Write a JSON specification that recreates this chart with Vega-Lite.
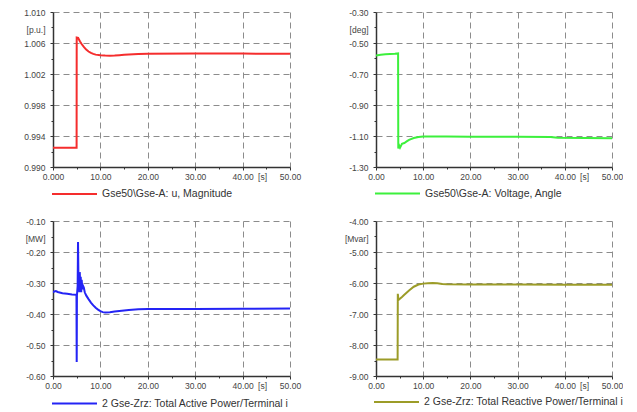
{
  "$schema": "https://vega.github.io/schema/vega-lite/v6.json",
  "background": "white",
  "padding": {"left": 23, "top": 8, "right": 0, "bottom": 0},
  "config": {
    "view": {"stroke": null},
    "font": "Liberation Sans",
    "axis": {
      "domainColor": "#333333",
      "domainWidth": 1.5,
      "tickColor": "#333333",
      "tickWidth": 1,
      "gridColor": "#8c8c8c",
      "gridDash": [6, 4],
      "gridWidth": 1,
      "labelFontSize": 8.5,
      "labelColor": "#444444",
      "labelOverlap": false,
      "labelFlush": false,
      "titleFontWeight": "normal",
      "titleFontSize": 8.5,
      "titleColor": "#444444"
    },
    "axisX": {"labelPadding": 2, "labelBaseline": "top"},
    "axisY": {"labelPadding": 5},
    "legend": {
      "orient": "none",
      "title": null,
      "symbolType": "stroke",
      "symbolSize": 2025,
      "symbolStrokeWidth": 2,
      "labelFontSize": 10.5,
      "labelColor": "#333333",
      "labelOffset": 4,
      "labelLimit": 400,
      "padding": 0
    }
  },
  "datasets": {
    "u": [
      {"t": 0, "v": 0.99247, "s": "Gse50\\Gse-A: u, Magnitude"},
      {"t": 4.98, "v": 0.99247, "s": "Gse50\\Gse-A: u, Magnitude"},
      {"t": 5.0, "v": 1.0067, "s": "Gse50\\Gse-A: u, Magnitude"},
      {"t": 5.3, "v": 1.00665, "s": "Gse50\\Gse-A: u, Magnitude"},
      {"t": 5.7, "v": 1.0062, "s": "Gse50\\Gse-A: u, Magnitude"},
      {"t": 6.0, "v": 1.0059, "s": "Gse50\\Gse-A: u, Magnitude"},
      {"t": 6.5, "v": 1.0055, "s": "Gse50\\Gse-A: u, Magnitude"},
      {"t": 7.0, "v": 1.00515, "s": "Gse50\\Gse-A: u, Magnitude"},
      {"t": 7.5, "v": 1.0049, "s": "Gse50\\Gse-A: u, Magnitude"},
      {"t": 8.0, "v": 1.00472, "s": "Gse50\\Gse-A: u, Magnitude"},
      {"t": 8.5, "v": 1.0046, "s": "Gse50\\Gse-A: u, Magnitude"},
      {"t": 9.0, "v": 1.0045, "s": "Gse50\\Gse-A: u, Magnitude"},
      {"t": 10.0, "v": 1.00442, "s": "Gse50\\Gse-A: u, Magnitude"},
      {"t": 11.0, "v": 1.00438, "s": "Gse50\\Gse-A: u, Magnitude"},
      {"t": 12.0, "v": 1.00437, "s": "Gse50\\Gse-A: u, Magnitude"},
      {"t": 13.0, "v": 1.00439, "s": "Gse50\\Gse-A: u, Magnitude"},
      {"t": 14.0, "v": 1.00443, "s": "Gse50\\Gse-A: u, Magnitude"},
      {"t": 15.0, "v": 1.00448, "s": "Gse50\\Gse-A: u, Magnitude"},
      {"t": 16.0, "v": 1.00452, "s": "Gse50\\Gse-A: u, Magnitude"},
      {"t": 18.0, "v": 1.00458, "s": "Gse50\\Gse-A: u, Magnitude"},
      {"t": 20.0, "v": 1.00462, "s": "Gse50\\Gse-A: u, Magnitude"},
      {"t": 30.0, "v": 1.00463, "s": "Gse50\\Gse-A: u, Magnitude"},
      {"t": 40.0, "v": 1.00463, "s": "Gse50\\Gse-A: u, Magnitude"},
      {"t": 50.0, "v": 1.00462, "s": "Gse50\\Gse-A: u, Magnitude"}
    ],
    "ang": [
      {"t": 0, "v": -0.58, "s": "Gse50\\Gse-A: Voltage, Angle"},
      {"t": 1, "v": -0.576, "s": "Gse50\\Gse-A: Voltage, Angle"},
      {"t": 2, "v": -0.573, "s": "Gse50\\Gse-A: Voltage, Angle"},
      {"t": 3, "v": -0.571, "s": "Gse50\\Gse-A: Voltage, Angle"},
      {"t": 4, "v": -0.569, "s": "Gse50\\Gse-A: Voltage, Angle"},
      {"t": 4.68, "v": -0.567, "s": "Gse50\\Gse-A: Voltage, Angle"},
      {"t": 4.72, "v": -1.18, "s": "Gse50\\Gse-A: Voltage, Angle"},
      {"t": 4.9, "v": -1.16, "s": "Gse50\\Gse-A: Voltage, Angle"},
      {"t": 5.1, "v": -1.175, "s": "Gse50\\Gse-A: Voltage, Angle"},
      {"t": 5.5, "v": -1.15, "s": "Gse50\\Gse-A: Voltage, Angle"},
      {"t": 6.0, "v": -1.145, "s": "Gse50\\Gse-A: Voltage, Angle"},
      {"t": 6.5, "v": -1.135, "s": "Gse50\\Gse-A: Voltage, Angle"},
      {"t": 7.0, "v": -1.125, "s": "Gse50\\Gse-A: Voltage, Angle"},
      {"t": 8.0, "v": -1.113, "s": "Gse50\\Gse-A: Voltage, Angle"},
      {"t": 9.0, "v": -1.107, "s": "Gse50\\Gse-A: Voltage, Angle"},
      {"t": 10.0, "v": -1.104, "s": "Gse50\\Gse-A: Voltage, Angle"},
      {"t": 15.0, "v": -1.104, "s": "Gse50\\Gse-A: Voltage, Angle"},
      {"t": 20.0, "v": -1.105, "s": "Gse50\\Gse-A: Voltage, Angle"},
      {"t": 30.0, "v": -1.105, "s": "Gse50\\Gse-A: Voltage, Angle"},
      {"t": 37.0, "v": -1.106, "s": "Gse50\\Gse-A: Voltage, Angle"},
      {"t": 38.5, "v": -1.112, "s": "Gse50\\Gse-A: Voltage, Angle"},
      {"t": 50.0, "v": -1.114, "s": "Gse50\\Gse-A: Voltage, Angle"}
    ],
    "p": [
      {"t": 0, "v": -0.33, "s": "2 Gse-Zrz: Total Active Power/Terminal i"},
      {"t": 0.3, "v": -0.327, "s": "2 Gse-Zrz: Total Active Power/Terminal i"},
      {"t": 0.6, "v": -0.326, "s": "2 Gse-Zrz: Total Active Power/Terminal i"},
      {"t": 1.0, "v": -0.329, "s": "2 Gse-Zrz: Total Active Power/Terminal i"},
      {"t": 2.0, "v": -0.333, "s": "2 Gse-Zrz: Total Active Power/Terminal i"},
      {"t": 3.0, "v": -0.335, "s": "2 Gse-Zrz: Total Active Power/Terminal i"},
      {"t": 4.0, "v": -0.337, "s": "2 Gse-Zrz: Total Active Power/Terminal i"},
      {"t": 4.95, "v": -0.338, "s": "2 Gse-Zrz: Total Active Power/Terminal i"},
      {"t": 5.0, "v": -0.555, "s": "2 Gse-Zrz: Total Active Power/Terminal i"},
      {"t": 5.05, "v": -0.34, "s": "2 Gse-Zrz: Total Active Power/Terminal i"},
      {"t": 5.2, "v": -0.31, "s": "2 Gse-Zrz: Total Active Power/Terminal i"},
      {"t": 5.28, "v": -0.168, "s": "2 Gse-Zrz: Total Active Power/Terminal i"},
      {"t": 5.38, "v": -0.3, "s": "2 Gse-Zrz: Total Active Power/Terminal i"},
      {"t": 5.45, "v": -0.27, "s": "2 Gse-Zrz: Total Active Power/Terminal i"},
      {"t": 5.55, "v": -0.33, "s": "2 Gse-Zrz: Total Active Power/Terminal i"},
      {"t": 5.65, "v": -0.265, "s": "2 Gse-Zrz: Total Active Power/Terminal i"},
      {"t": 5.75, "v": -0.32, "s": "2 Gse-Zrz: Total Active Power/Terminal i"},
      {"t": 5.85, "v": -0.28, "s": "2 Gse-Zrz: Total Active Power/Terminal i"},
      {"t": 5.95, "v": -0.33, "s": "2 Gse-Zrz: Total Active Power/Terminal i"},
      {"t": 6.05, "v": -0.29, "s": "2 Gse-Zrz: Total Active Power/Terminal i"},
      {"t": 6.2, "v": -0.32, "s": "2 Gse-Zrz: Total Active Power/Terminal i"},
      {"t": 6.35, "v": -0.31, "s": "2 Gse-Zrz: Total Active Power/Terminal i"},
      {"t": 6.5, "v": -0.315, "s": "2 Gse-Zrz: Total Active Power/Terminal i"},
      {"t": 6.7, "v": -0.33, "s": "2 Gse-Zrz: Total Active Power/Terminal i"},
      {"t": 7.0, "v": -0.34, "s": "2 Gse-Zrz: Total Active Power/Terminal i"},
      {"t": 7.5, "v": -0.352, "s": "2 Gse-Zrz: Total Active Power/Terminal i"},
      {"t": 8.0, "v": -0.363, "s": "2 Gse-Zrz: Total Active Power/Terminal i"},
      {"t": 8.5, "v": -0.372, "s": "2 Gse-Zrz: Total Active Power/Terminal i"},
      {"t": 9.0, "v": -0.38, "s": "2 Gse-Zrz: Total Active Power/Terminal i"},
      {"t": 9.5, "v": -0.386, "s": "2 Gse-Zrz: Total Active Power/Terminal i"},
      {"t": 10.0, "v": -0.391, "s": "2 Gse-Zrz: Total Active Power/Terminal i"},
      {"t": 10.5, "v": -0.394, "s": "2 Gse-Zrz: Total Active Power/Terminal i"},
      {"t": 11.0, "v": -0.395, "s": "2 Gse-Zrz: Total Active Power/Terminal i"},
      {"t": 12.0, "v": -0.394, "s": "2 Gse-Zrz: Total Active Power/Terminal i"},
      {"t": 13.0, "v": -0.392, "s": "2 Gse-Zrz: Total Active Power/Terminal i"},
      {"t": 14.0, "v": -0.39, "s": "2 Gse-Zrz: Total Active Power/Terminal i"},
      {"t": 16.0, "v": -0.387, "s": "2 Gse-Zrz: Total Active Power/Terminal i"},
      {"t": 18.0, "v": -0.385, "s": "2 Gse-Zrz: Total Active Power/Terminal i"},
      {"t": 20.0, "v": -0.384, "s": "2 Gse-Zrz: Total Active Power/Terminal i"},
      {"t": 30.0, "v": -0.384, "s": "2 Gse-Zrz: Total Active Power/Terminal i"},
      {"t": 40.0, "v": -0.383, "s": "2 Gse-Zrz: Total Active Power/Terminal i"},
      {"t": 50.0, "v": -0.382, "s": "2 Gse-Zrz: Total Active Power/Terminal i"}
    ],
    "q": [
      {"t": 0, "v": -8.47, "s": "2 Gse-Zrz: Total Reactive Power/Terminal i"},
      {"t": 4.58, "v": -8.47, "s": "2 Gse-Zrz: Total Reactive Power/Terminal i"},
      {"t": 4.62, "v": -6.35, "s": "2 Gse-Zrz: Total Reactive Power/Terminal i"},
      {"t": 4.75, "v": -6.55, "s": "2 Gse-Zrz: Total Reactive Power/Terminal i"},
      {"t": 5.5, "v": -6.45, "s": "2 Gse-Zrz: Total Reactive Power/Terminal i"},
      {"t": 6.0, "v": -6.38, "s": "2 Gse-Zrz: Total Reactive Power/Terminal i"},
      {"t": 7.0, "v": -6.24, "s": "2 Gse-Zrz: Total Reactive Power/Terminal i"},
      {"t": 8.0, "v": -6.12, "s": "2 Gse-Zrz: Total Reactive Power/Terminal i"},
      {"t": 9.0, "v": -6.05, "s": "2 Gse-Zrz: Total Reactive Power/Terminal i"},
      {"t": 10.0, "v": -6.02, "s": "2 Gse-Zrz: Total Reactive Power/Terminal i"},
      {"t": 11.0, "v": -6.01, "s": "2 Gse-Zrz: Total Reactive Power/Terminal i"},
      {"t": 12.0, "v": -6.0, "s": "2 Gse-Zrz: Total Reactive Power/Terminal i"},
      {"t": 13.0, "v": -6.01, "s": "2 Gse-Zrz: Total Reactive Power/Terminal i"},
      {"t": 14.0, "v": -6.03, "s": "2 Gse-Zrz: Total Reactive Power/Terminal i"},
      {"t": 15.0, "v": -6.04, "s": "2 Gse-Zrz: Total Reactive Power/Terminal i"},
      {"t": 20.0, "v": -6.05, "s": "2 Gse-Zrz: Total Reactive Power/Terminal i"},
      {"t": 30.0, "v": -6.05, "s": "2 Gse-Zrz: Total Reactive Power/Terminal i"},
      {"t": 40.0, "v": -6.06, "s": "2 Gse-Zrz: Total Reactive Power/Terminal i"},
      {"t": 50.0, "v": -6.06, "s": "2 Gse-Zrz: Total Reactive Power/Terminal i"}
    ]
  },
  "columns": 2,
  "concat": [
    {
      "width": 237, "height": 155,
      "data": {"name": "u"},
      "mark": {"type": "line", "strokeWidth": 2, "clip": true},
      "encoding": {
        "x": {"field": "t", "type": "quantitative", "scale": {"domain": [0, 50], "nice": false},
          "axis": {"values": [0,5,10,15,20,25,30,35,40,45,50],
            "labelExpr": "datum.value % 10 == 0 ? (datum.value == 0 ? '0.000' : format(datum.value, '.2f')) : ''",
            "gridOpacity": {"condition": {"test": "datum.value % 10 == 0 && datum.value > 0", "value": 1}, "value": 0},
            "tickSize": {"condition": {"test": "datum.value % 10 == 0", "value": 3}, "value": 2},
            "title": "[s]", "titleX": 209, "titleY": 5, "titleBaseline": "top", "titleAlign": "center"}},
        "y": {"field": "v", "type": "quantitative", "scale": {"domain": [0.99, 1.01], "nice": false, "zero": false},
          "axis": {"values": [0.99,0.992,0.994,0.996,0.998,1.0,1.002,1.004,1.006,1.008,1.01],
            "labelExpr": "round((datum.value - 0.99) / 0.002) % 2 == 0 ? format(datum.value, '.3f') : ''",
            "gridOpacity": {"condition": {"test": "round((datum.value - 0.99) / 0.002) % 2 == 0 && datum.value > 0.991", "value": 1}, "value": 0},
            "tickSize": {"condition": {"test": "round((datum.value - 0.99) / 0.002) % 2 == 0", "value": 3}, "value": 2},
            "title": "[p.u.]", "titleAngle": 0, "titleX": -8, "titleY": 17, "titleAlign": "right", "titleBaseline": "middle"}},
        "color": {"field": "s", "type": "nominal", "scale": {"range": ["#f52d2d"]},
          "legend": {"legendX": -2, "legendY": 158.5}}
      }
    },
    {
      "width": 236, "height": 155,
      "data": {"name": "ang"},
      "mark": {"type": "line", "strokeWidth": 2, "clip": true},
      "encoding": {
        "x": {"field": "t", "type": "quantitative", "scale": {"domain": [0, 50], "nice": false},
          "axis": {"values": [0,5,10,15,20,25,30,35,40,45,50],
            "labelExpr": "datum.value % 10 == 0 ? format(datum.value, '.2f') : ''",
            "gridOpacity": {"condition": {"test": "datum.value % 10 == 0 && datum.value > 0", "value": 1}, "value": 0},
            "tickSize": {"condition": {"test": "datum.value % 10 == 0", "value": 3}, "value": 2},
            "title": "[s]", "titleX": 208, "titleY": 5, "titleBaseline": "top", "titleAlign": "center"}},
        "y": {"field": "v", "type": "quantitative", "scale": {"domain": [-1.3, -0.3], "nice": false, "zero": false},
          "axis": {"values": [-1.3,-1.2,-1.1,-1.0,-0.9,-0.8,-0.7,-0.6,-0.5,-0.4,-0.3],
            "labelExpr": "round((datum.value + 1.3) / 0.1) % 2 == 0 ? '-' + format(abs(datum.value), '.2f') : ''",
            "gridOpacity": {"condition": {"test": "round((datum.value + 1.3) / 0.1) % 2 == 0 && datum.value > -1.29", "value": 1}, "value": 0},
            "tickSize": {"condition": {"test": "round((datum.value + 1.3) / 0.1) % 2 == 0", "value": 3}, "value": 2},
            "title": "[deg]", "titleAngle": 0, "titleX": -8, "titleY": 17, "titleAlign": "right", "titleBaseline": "middle"}},
        "color": {"field": "s", "type": "nominal", "scale": {"range": ["#3cf03c"]},
          "legend": {"legendX": -2, "legendY": 158}}
      }
    },
    {
      "width": 237, "height": 155,
      "data": {"name": "p"},
      "mark": {"type": "line", "strokeWidth": 2, "clip": true},
      "encoding": {
        "x": {"field": "t", "type": "quantitative", "scale": {"domain": [0, 50], "nice": false},
          "axis": {"values": [0,5,10,15,20,25,30,35,40,45,50],
            "labelExpr": "datum.value % 10 == 0 ? format(datum.value, '.2f') : ''",
            "gridOpacity": {"condition": {"test": "datum.value % 10 == 0 && datum.value > 0", "value": 1}, "value": 0},
            "tickSize": {"condition": {"test": "datum.value % 10 == 0", "value": 3}, "value": 2},
            "title": "[s]", "titleX": 209, "titleY": 5, "titleBaseline": "top", "titleAlign": "center"}},
        "y": {"field": "v", "type": "quantitative", "scale": {"domain": [-0.6, -0.1], "nice": false, "zero": false},
          "axis": {"values": [-0.6,-0.55,-0.5,-0.45,-0.4,-0.35,-0.3,-0.25,-0.2,-0.15,-0.1],
            "labelExpr": "round((datum.value + 0.6) / 0.05) % 2 == 0 ? '-' + format(abs(datum.value), '.2f') : ''",
            "gridOpacity": {"condition": {"test": "round((datum.value + 0.6) / 0.05) % 2 == 0 && datum.value > -0.59", "value": 1}, "value": 0},
            "tickSize": {"condition": {"test": "round((datum.value + 0.6) / 0.05) % 2 == 0", "value": 3}, "value": 2},
            "title": "[MW]", "titleAngle": 0, "titleX": -8, "titleY": 17, "titleAlign": "right", "titleBaseline": "middle"}},
        "color": {"field": "s", "type": "nominal", "scale": {"range": ["#2424f5"]},
          "legend": {"legendX": -2, "legendY": 159}}
      }
    },
    {
      "width": 236, "height": 155,
      "data": {"name": "q"},
      "mark": {"type": "line", "strokeWidth": 2, "clip": true},
      "encoding": {
        "x": {"field": "t", "type": "quantitative", "scale": {"domain": [0, 50], "nice": false},
          "axis": {"values": [0,5,10,15,20,25,30,35,40,45,50],
            "labelExpr": "datum.value % 10 == 0 ? format(datum.value, '.2f') : ''",
            "gridOpacity": {"condition": {"test": "datum.value % 10 == 0 && datum.value > 0", "value": 1}, "value": 0},
            "tickSize": {"condition": {"test": "datum.value % 10 == 0", "value": 3}, "value": 2},
            "title": "[s]", "titleX": 208, "titleY": 5, "titleBaseline": "top", "titleAlign": "center"}},
        "y": {"field": "v", "type": "quantitative", "scale": {"domain": [-9, -4], "nice": false, "zero": false},
          "axis": {"values": [-9,-8.5,-8,-7.5,-7,-6.5,-6,-5.5,-5,-4.5,-4],
            "labelExpr": "round((datum.value + 9) / 0.5) % 2 == 0 ? '-' + format(abs(datum.value), '.2f') : ''",
            "gridOpacity": {"condition": {"test": "round((datum.value + 9) / 0.5) % 2 == 0 && datum.value > -8.9", "value": 1}, "value": 0},
            "tickSize": {"condition": {"test": "round((datum.value + 9) / 0.5) % 2 == 0", "value": 3}, "value": 2},
            "title": "[Mvar]", "titleAngle": 0, "titleX": -8, "titleY": 17, "titleAlign": "right", "titleBaseline": "middle"}},
        "color": {"field": "s", "type": "nominal", "scale": {"range": ["#9c9c28"]},
          "legend": {"legendX": -3, "legendY": 157.5}}
      }
    }
  ],
  "spacing": {"row": 54, "column": 86},
  "bounds": "flush",
  "resolve": {"scale": {"color": "independent"}, "legend": {"color": "independent"}}
}
